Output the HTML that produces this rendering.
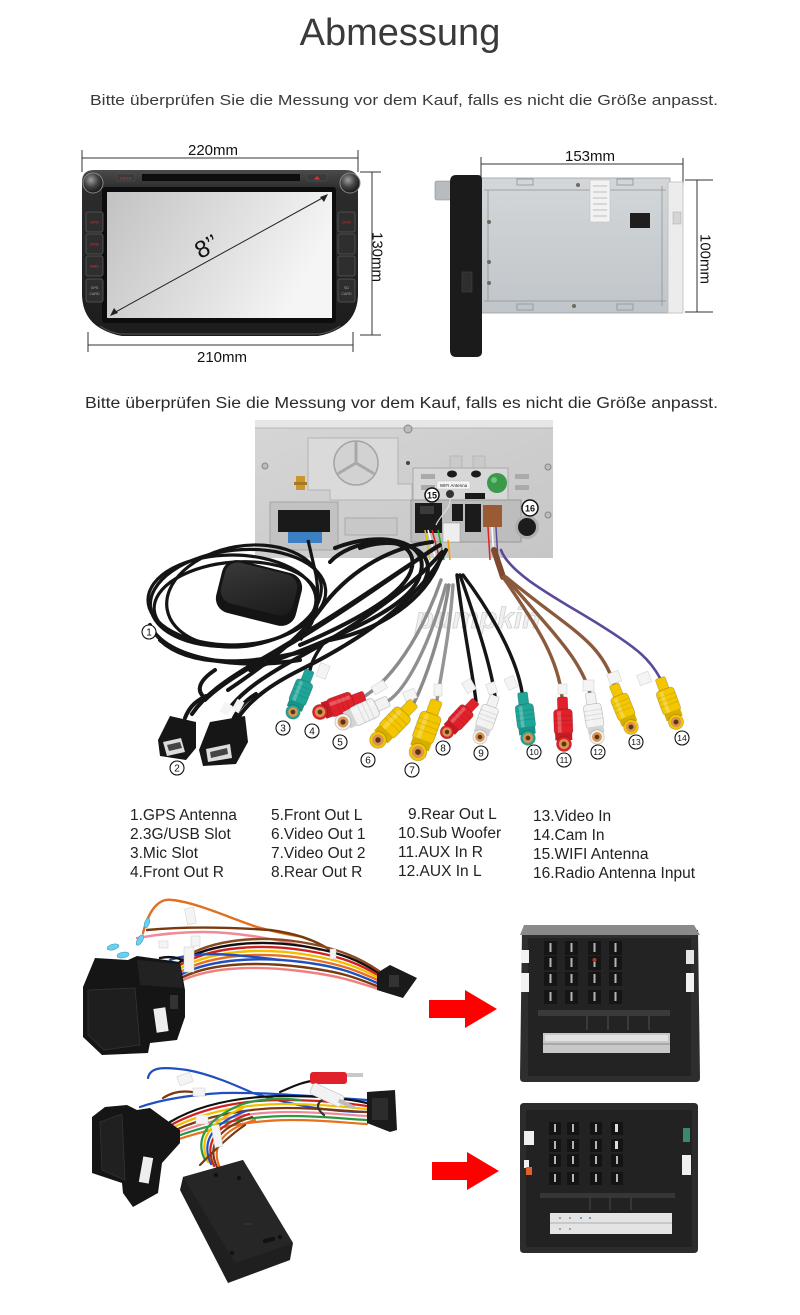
<!DOCTYPE html>
<html><head><meta charset="utf-8">
<style>
html,body{margin:0;padding:0;background:#fff;width:800px;height:1315px;overflow:hidden}
svg{display:block}
</style></head><body>
<svg xmlns="http://www.w3.org/2000/svg" xmlns:xlink="http://www.w3.org/1999/xlink" width="800" height="1315" viewBox="0 0 800 1315" font-family="'Liberation Sans', Arial, sans-serif">
<defs>
<linearGradient id="scr" x1="0" y1="0" x2="1" y2="0.3">
<stop offset="0" stop-color="#c2c2c2"/><stop offset="0.6" stop-color="#e0e0e0"/><stop offset="1" stop-color="#f5f5f5"/>
</linearGradient>
<linearGradient id="bez" x1="0" y1="0" x2="0" y2="1">
<stop offset="0" stop-color="#4a4a4a"/><stop offset="0.12" stop-color="#2c2c2c"/><stop offset="1" stop-color="#1c1c1c"/>
</linearGradient>
<linearGradient id="metal" x1="0" y1="0" x2="0" y2="1">
<stop offset="0" stop-color="#d3d7da"/><stop offset="1" stop-color="#c0c5c9"/>
</linearGradient>
<linearGradient id="panel" x1="0" y1="0" x2="1" y2="1">
<stop offset="0" stop-color="#d6d6d6"/><stop offset="1" stop-color="#c6c6c6"/>
</linearGradient>
<linearGradient id="puck" x1="0" y1="0" x2="1" y2="1">
<stop offset="0" stop-color="#3a3a3a"/><stop offset="1" stop-color="#1a1a1a"/>
</linearGradient>
<radialGradient id="knob" cx="0.4" cy="0.35" r="0.7">
<stop offset="0" stop-color="#a0a0a0"/><stop offset="0.5" stop-color="#444"/><stop offset="1" stop-color="#111"/>
</radialGradient>
<g id="rca">
 <rect x="-5.5" y="-50" width="11" height="15" rx="2" fill="currentColor" stroke="rgba(0,0,0,0.2)" stroke-width="0.8"/>
 <rect x="-10" y="-37" width="20" height="27" rx="4" fill="currentColor" stroke="rgba(0,0,0,0.22)" stroke-width="0.8"/>
 <rect x="-6" y="-35" width="4" height="23" fill="#fff" opacity="0.25"/>
 <path d="M-10 -30 H10 M-10 -25 H10 M-10 -20 H10" stroke="rgba(0,0,0,0.1)" stroke-width="1"/>
 <rect x="-9" y="-12" width="18" height="8" fill="currentColor"/>
 <rect x="-9" y="-12" width="18" height="8" fill="#000" opacity="0.12"/>
 <circle r="8" fill="currentColor" stroke="rgba(0,0,0,0.22)" stroke-width="0.8"/>
 <circle r="5.5" fill="#d89450"/>
 <circle r="2.6" fill="#5a3414"/>
</g>
</defs>

<!-- Titles -->
<text x="400" y="45" font-size="38" text-anchor="middle" fill="#3a3a3a">Abmessung</text>
<text x="90" y="105" font-size="14.5" fill="#3a3a3a" textLength="628" lengthAdjust="spacingAndGlyphs">Bitte überprüfen Sie die Messung vor dem Kauf, falls es nicht die Größe anpasst.</text>

<!-- ===== Front device ===== -->
<g stroke="#333" stroke-width="1" fill="none">
<line x1="82" y1="158" x2="358" y2="158"/>
<line x1="82" y1="150" x2="82" y2="172"/>
<line x1="358" y1="150" x2="358" y2="172"/>
<line x1="372" y1="172" x2="372" y2="335"/>
<line x1="360" y1="172" x2="381" y2="172"/>
<line x1="360" y1="335" x2="381" y2="335"/>
<line x1="88" y1="345" x2="353" y2="345"/>
<line x1="88" y1="332" x2="88" y2="352"/>
<line x1="353" y1="332" x2="353" y2="352"/>
</g>
<text x="213" y="155" font-size="15" text-anchor="middle" fill="#111">220mm</text>
<text x="222" y="362" font-size="15" text-anchor="middle" fill="#111">210mm</text>
<text x="377" y="257" font-size="15" text-anchor="middle" dominant-baseline="central" transform="rotate(90 377 257)" fill="#111">130mm</text>

<path d="M 94 170 L 346 170 Q 358 170 358 182 L 358 296 Q 357 318 340 328 Q 330 334 318 336 L 122 336 Q 110 334 100 328 Q 83 318 82 296 L 82 182 Q 82 170 94 170 Z" fill="url(#bez)"/>
<path d="M 100 326 Q 110 333 122 334 L 318 334 Q 330 333 340 326" fill="none" stroke="#555" stroke-width="1"/>
<rect x="102" y="187" width="234" height="136" rx="3" fill="#0d0d0d"/>
<rect x="107" y="192" width="225" height="126" fill="url(#scr)"/>
<rect x="142" y="174" width="158" height="7" fill="#0d0d0d"/>
<rect x="117" y="174" width="18" height="7" rx="1" fill="#3a3a3a" stroke="#555" stroke-width="0.5"/>
<text x="126" y="179.5" font-size="4" text-anchor="middle" fill="#d33">MUTE</text>
<rect x="307" y="174" width="20" height="7" rx="1" fill="#3a3a3a" stroke="#555" stroke-width="0.5"/>
<path d="M314 179.5 L317 176 L320 179.5 Z" fill="#d33"/>
<circle cx="93" cy="183" r="10" fill="url(#knob)" stroke="#888" stroke-width="1"/>
<circle cx="350" cy="183" r="10" fill="url(#knob)" stroke="#888" stroke-width="1"/>
<g fill="#2e2e2e" stroke="#5a5a5a" stroke-width="0.8">
<rect x="86" y="212" width="17" height="20" rx="2"/>
<rect x="86" y="234" width="17" height="20" rx="2"/>
<rect x="86" y="256" width="17" height="20" rx="2"/>
<rect x="86" y="279" width="17" height="23" rx="2"/>
<rect x="338" y="212" width="17" height="20" rx="2"/>
<rect x="338" y="234" width="17" height="20" rx="2"/>
<rect x="338" y="256" width="17" height="20" rx="2"/>
<rect x="338" y="279" width="17" height="23" rx="2"/>
</g>
<g font-size="4" text-anchor="middle" fill="#d33">
<text x="94.5" y="223.5">GPS</text><text x="94.5" y="245.5">DVD</text><text x="94.5" y="267.5">AMS</text>
<text x="346.5" y="223.5">DVD</text>
</g>
<g font-size="3.6" text-anchor="middle" fill="#aaa">
<text x="94.5" y="289">GPS</text><text x="94.5" y="295">CARD</text>
<text x="346.5" y="289">SD</text><text x="346.5" y="295">CARD</text>
</g>
<g stroke="#222" stroke-width="1" fill="none">
<line x1="112" y1="314" x2="326" y2="196"/>
</g>
<path d="M110 316 L114 308 L118 313 Z" fill="#222"/>
<path d="M328 194 L320 197 L324 202 Z" fill="#222"/>
<text x="207" y="247" font-size="24" text-anchor="middle" dominant-baseline="central" transform="rotate(-29 207 247)" fill="#111">8’’</text>

<!-- ===== Side device ===== -->
<g stroke="#333" stroke-width="1" fill="none">
<line x1="481" y1="164" x2="683" y2="164"/>
<line x1="481" y1="157" x2="481" y2="180"/>
<line x1="683" y1="158" x2="683" y2="185"/>
<line x1="697" y1="180" x2="697" y2="312"/>
<line x1="685" y1="180" x2="713" y2="180"/>
<line x1="685" y1="312" x2="713" y2="312"/>
</g>
<text x="590" y="161" font-size="15" text-anchor="middle" fill="#111">153mm</text>
<text x="705" y="259" font-size="15" text-anchor="middle" dominant-baseline="central" transform="rotate(90 705 259)" fill="#111">100mm</text>

<rect x="480" y="178" width="190" height="135" fill="url(#metal)" stroke="#9aa0a4" stroke-width="0.8"/>
<g stroke="#8e9397" stroke-width="0.8" fill="none">
<line x1="484" y1="190" x2="666" y2="190"/>
<line x1="484" y1="301" x2="666" y2="301"/>
<line x1="488" y1="190" x2="488" y2="301"/>
<line x1="662" y1="186" x2="662" y2="306"/>
<rect x="517" y="179" width="16" height="6"/>
<rect x="617" y="179" width="16" height="6"/>
<rect x="517" y="304" width="16" height="6"/>
<rect x="617" y="304" width="16" height="6"/>
</g>
<g fill="#6f6a60">
<circle cx="578" cy="185" r="2"/><circle cx="489" cy="222" r="2"/><circle cx="489" cy="262" r="2"/><circle cx="489" cy="283" r="2"/><circle cx="574" cy="306" r="2"/>
</g>
<rect x="590" y="180" width="20" height="42" fill="#f2f2f2" stroke="#bbb" stroke-width="0.5"/>
<g stroke="#999" stroke-width="0.6"><line x1="593" y1="186" x2="607" y2="186"/><line x1="593" y1="192" x2="607" y2="192"/><line x1="593" y1="198" x2="607" y2="198"/><line x1="593" y1="204" x2="607" y2="204"/><line x1="593" y1="210" x2="607" y2="210"/><line x1="593" y1="216" x2="607" y2="216"/></g>
<rect x="630" y="213" width="20" height="15" fill="#1e1e1e"/>
<rect x="668" y="182" width="15" height="131" fill="#ececec" stroke="#bdbdbd" stroke-width="0.8"/>
<rect x="673" y="212" width="8" height="12" fill="#d5d5d5" stroke="#aaa" stroke-width="0.5"/>
<rect x="435" y="181" width="17" height="19" rx="2" fill="#b8bcbf" stroke="#888" stroke-width="0.6"/>
<path d="M 456 175 L 478 175 Q 482 175 482 180 L 482 352 Q 482 357 476 357 L 456 357 Q 450 357 450 350 L 450 182 Q 450 175 456 175 Z" fill="#1b1b1b"/>
<rect x="462" y="272" width="10" height="20" fill="#2e2e2e" stroke="#444" stroke-width="0.6"/>

<!-- Subtitle 2 -->
<text x="85" y="408" font-size="15.5" fill="#2a2a2a" textLength="633" lengthAdjust="spacingAndGlyphs">Bitte überprüfen Sie die Messung vor dem Kauf, falls es nicht die Größe anpasst.</text>

<!-- ===== Back panel ===== -->
<rect x="255" y="420" width="298" height="138" fill="url(#panel)"/>
<rect x="255" y="420" width="298" height="8" fill="#e6e6e6"/>
<line x1="255" y1="428" x2="553" y2="428" stroke="#aaa" stroke-width="0.8"/>
<path d="M 308 438 L 398 438 L 398 484 L 412 484 L 412 500 L 330 500 L 330 490 L 308 490 Z" fill="#dadada" stroke="#b4b4b4" stroke-width="1"/>
<circle cx="356" cy="463" r="22" fill="#d2d2d2" stroke="#a4a4a4" stroke-width="1.5"/>
<g stroke="#a8a8a8" stroke-width="3" stroke-linecap="round">
<line x1="356" y1="463" x2="356" y2="443"/>
<line x1="356" y1="463" x2="339" y2="473"/>
<line x1="356" y1="463" x2="373" y2="473"/>
</g>
<circle cx="408" cy="429" r="4" fill="#bbb" stroke="#888"/>
<circle cx="408" cy="463" r="2" fill="#444"/>
<circle cx="265" cy="466" r="3" fill="#bbb" stroke="#888"/>
<circle cx="548" cy="467" r="3" fill="#bbb" stroke="#888"/>
<circle cx="548" cy="515" r="3" fill="#bbb" stroke="#888"/>
<rect x="270" y="502" width="68" height="48" fill="#c2c2c2" stroke="#a6a6a6"/>
<rect x="278" y="510" width="52" height="22" fill="#1a1a1a"/>
<rect x="288" y="532" width="34" height="11" fill="#3c7fc2"/>
<rect x="296" y="476" width="9" height="14" fill="#c8952e"/>
<rect x="294" y="482" width="13" height="3" fill="#a67820"/>
<rect x="345" y="518" width="52" height="17" fill="#c8c8c8" stroke="#aaa"/>
<rect x="450" y="456" width="12" height="12" fill="#c9c9c9" stroke="#aaa" stroke-width="0.6"/>
<rect x="473" y="456" width="12" height="12" fill="#c9c9c9" stroke="#aaa" stroke-width="0.6"/>
<rect x="413" y="468" width="95" height="34" fill="#d7d7d7" stroke="#aaa"/>
<rect x="421" y="474" width="14" height="5" fill="#aaa"/>
<rect x="421" y="485" width="14" height="5" fill="#aaa"/>
<rect x="515" y="474" width="14" height="5" fill="#aaa"/>
<rect x="515" y="485" width="14" height="5" fill="#aaa"/>
<ellipse cx="452" cy="474" rx="5" ry="3.5" fill="#1a1a1a"/>
<ellipse cx="476" cy="474" rx="5" ry="3.5" fill="#1a1a1a"/>
<rect x="437" y="481" width="33" height="8" fill="#f4f4f4" stroke="#bbb" stroke-width="0.4"/>
<text x="453.5" y="487" font-size="4.5" text-anchor="middle" fill="#222">WIFI Antenna</text>
<rect x="465" y="493" width="20" height="6" fill="#1a1a1a"/>
<circle cx="497" cy="483" r="10" fill="#3a9a4a"/>
<circle cx="494" cy="480" r="3" fill="#6bc47a"/>
<rect x="411" y="500" width="110" height="42" fill="#bdbdbd" stroke="#999"/>
<rect x="415" y="503" width="27" height="30" fill="#1b1b1b"/>
<rect x="420" y="506" width="14" height="8" fill="#3a3a3a"/>
<rect x="443" y="523" width="17" height="19" fill="#eee" stroke="#999" stroke-width="0.5"/>
<rect x="452" y="504" width="11" height="17" fill="#1b1b1b"/>
<rect x="465" y="504" width="16" height="28" fill="#1b1b1b"/>
<rect x="483" y="505" width="19" height="22" fill="#9a5a33"/>
<circle cx="450" cy="494" r="4" fill="#333"/>
<path d="M 450 498 C 452 508, 440 515, 436 525" stroke="#ddd" stroke-width="1.2" fill="none"/>
<circle cx="527" cy="527" r="12" fill="#b0b0b0"/>
<circle cx="527" cy="527" r="9" fill="#1c1c1c"/>
<circle cx="432" cy="495" r="7" fill="#fff" stroke="#111" stroke-width="1.5"/>
<text x="432" y="498.5" font-size="9" font-weight="bold" text-anchor="middle" fill="#111">15</text>
<circle cx="530" cy="508" r="8" fill="#fff" stroke="#111" stroke-width="1.5"/>
<text x="530" y="511.5" font-size="9" font-weight="bold" text-anchor="middle" fill="#111">16</text>
<g fill="none" stroke-width="1.5">
<path d="M 425 530 L 430 560" stroke="#e8c000"/>
<path d="M 428 530 L 436 560" stroke="#fff"/>
<path d="M 432 530 L 440 560" stroke="#d22"/>
<path d="M 438 530 L 444 560" stroke="#2a2"/>
<path d="M 448 540 L 450 560" stroke="#f0a000"/>
<path d="M 488 527 L 490 560" stroke="#d22"/>
<path d="M 492 527 L 494 560" stroke="#fff"/>
<path d="M 496 527 L 498 560" stroke="#5b4a9a"/>
</g>

<!-- ===== Cables ===== -->
<text x="478" y="628" font-size="30" font-style="italic" font-weight="bold" text-anchor="middle" fill="#f0f0f0" stroke="#d0d0d0" stroke-width="0.8">pumpkin</text>

<!-- GPS coil -->
<g fill="none" stroke="#141414" stroke-width="3.2">
<ellipse cx="238" cy="598" rx="88" ry="48" transform="rotate(-6 238 598)"/>
<ellipse cx="236" cy="604" rx="82" ry="42" transform="rotate(-4 236 604)"/>
<ellipse cx="244" cy="596" rx="78" ry="50" transform="rotate(-10 244 596)"/>
<ellipse cx="232" cy="600" rx="84" ry="45"/>
<path d="M 308 540 L 316 575 C 320 600, 318 620, 300 640"/>
</g>
<rect x="218" y="566" width="82" height="54" rx="15" fill="#141414" transform="rotate(14 259 593)"/>
<rect x="222" y="568" width="74" height="42" rx="13" fill="url(#puck)" transform="rotate(14 259 589)"/>

<!-- Black band of cables -->
<g fill="none" stroke="#151515" stroke-width="4" stroke-linecap="round">
<path d="M 440 545 C 400 570, 330 620, 260 660 C 225 680, 205 695, 192 714"/>
<path d="M 432 542 C 385 548, 345 575, 320 610 C 298 640, 265 665, 228 690"/>
<path d="M 446 550 C 420 600, 360 640, 300 670 C 270 685, 250 700, 238 718"/>
<path d="M 436 547 C 395 575, 340 615, 280 650 C 245 670, 220 685, 205 700"/>
<path d="M 442 552 C 410 590, 350 630, 290 662 C 262 678, 245 690, 232 705"/>
<path d="M 335 548 C 380 530, 432 540, 420 575 C 410 610, 330 640, 250 670"/>
<path d="M 330 562 C 350 540, 405 532, 412 558 C 418 585, 370 615, 300 645"/>
<path d="M 360 548 C 395 535, 440 548, 425 580"/>
<path d="M 160 640 C 190 668, 250 665, 310 650"/>
<path d="M 150 625 C 165 660, 240 670, 300 660"/>
<path d="M 215 670 C 200 680, 195 690, 205 698"/>
<path d="M 440 560 C 425 600, 380 630, 330 640"/>
</g>

<!-- Colored cables to plugs -->
<g fill="none" stroke-linecap="round" stroke-width="3.4">
<path d="M 310 670 C 312 660, 318 650, 326 640" stroke="#151515"/>
<path d="M 365 696 C 390 680, 420 640, 441 580" stroke="#8c8c8c"/>
<path d="M 388 701 C 405 690, 428 650, 446 585" stroke="#909090"/>
<path d="M 414 703 C 425 680, 440 640, 449 585" stroke="#8a8a8a"/>
<path d="M 437 700 C 442 670, 450 630, 453 585" stroke="#959595"/>
<path d="M 476 701 C 472 670, 462 620, 457 575" stroke="#151515"/>
<path d="M 495 696 C 490 660, 472 610, 460 575" stroke="#151515"/>
<path d="M 522 692 C 515 650, 482 600, 463 575" stroke="#151515"/>
<path d="M 494 550 L 503 577" stroke="#7d4a2e" stroke-width="6"/>
<path d="M 562 697 C 558 660, 540 630, 503 577" stroke="#8b5a3c"/>
<path d="M 590 693 C 580 660, 560 640, 505 577" stroke="#8b5a3c"/>
<path d="M 614 684 C 600 640, 570 630, 506 577" stroke="#8b5a3c"/>
<path d="M 501 550 C 510 575, 560 600, 600 625 S 650 660, 660 678" stroke="#5b4a9a" stroke-width="2.6"/>
</g>
<g fill="#f4f4f4" stroke="#ccc" stroke-width="0.5">
<rect x="318" y="664" width="10" height="14" transform="rotate(20 323 671)"/>
<rect x="372" y="683" width="14" height="9" transform="rotate(-30 379 687)"/>
<rect x="404" y="690" width="12" height="10" transform="rotate(-20 410 695)"/>
<rect x="434" y="684" width="8" height="12"/>
<rect x="464" y="680" width="10" height="12" transform="rotate(-30 469 686)"/>
<rect x="487" y="683" width="9" height="11" transform="rotate(-20 491 688)"/>
<rect x="506" y="677" width="10" height="12" transform="rotate(-25 511 683)"/>
<rect x="558" y="684" width="9" height="10"/>
<rect x="583" y="680" width="11" height="11"/>
<rect x="608" y="672" width="12" height="11" transform="rotate(-20 614 677)"/>
<rect x="638" y="673" width="12" height="11" transform="rotate(-20 644 678)"/>
</g>

<!-- RCA plugs -->
<use xlink:href="#rca" href="#rca" color="#1ea597" transform="translate(293,712) rotate(22) scale(0.9)"/>
<use xlink:href="#rca" href="#rca" color="#e0202a" transform="translate(320,712) rotate(70) scale(0.95)"/>
<use xlink:href="#rca" href="#rca" color="#f2f2f2" transform="translate(343,722) rotate(65) scale(1.0)"/>
<use xlink:href="#rca" href="#rca" color="#f3c600" transform="translate(378,740) rotate(44) scale(1.04)"/>
<use xlink:href="#rca" href="#rca" color="#f3c600" transform="translate(418,752) rotate(20) scale(1.1)"/>
<use xlink:href="#rca" href="#rca" color="#e0202a" transform="translate(447,732) rotate(43) scale(0.85)"/>
<use xlink:href="#rca" href="#rca" color="#f2f2f2" transform="translate(480,737) rotate(20) scale(0.88)"/>
<use xlink:href="#rca" href="#rca" color="#1ea597" transform="translate(528,738) rotate(-7) scale(0.92)"/>
<use xlink:href="#rca" href="#rca" color="#e0202a" transform="translate(564,744) rotate(-2) scale(0.94)"/>
<use xlink:href="#rca" href="#rca" color="#f2f2f2" transform="translate(597,737) rotate(-9) scale(0.9)"/>
<use xlink:href="#rca" href="#rca" color="#f3c600" transform="translate(631,727) rotate(-22) scale(0.92)"/>
<use xlink:href="#rca" href="#rca" color="#f3c600" transform="translate(676,722) rotate(-20) scale(0.94)"/>

<!-- USB connectors -->
<g fill="none" stroke="#151515" stroke-width="4" stroke-linecap="round">
<path d="M 185 718 C 190 705, 198 700, 206 696"/>
<path d="M 232 722 C 238 708, 246 700, 256 694"/>
</g>
<polygon points="158,740 170,716 196,722 196,748 186,760 160,756" fill="#161616"/>
<polygon points="163,742 181,738 185,752 167,756" fill="#dcdcdc"/>
<polygon points="167,745 180,742 182,748 169,751" fill="#444"/>
<polygon points="199,750 210,722 245,716 248,742 236,764 203,766" fill="#161616"/>
<polygon points="206,749 230,744 232,758 208,762" fill="#dcdcdc"/>
<polygon points="210,752 227,748 228,754 211,758" fill="#444"/>
<rect x="222" y="703" width="9" height="11" fill="#f4f4f4" transform="rotate(30 226 708)"/>
<rect x="234" y="700" width="8" height="12" fill="#f4f4f4" transform="rotate(30 238 706)"/>

<!-- Circled numbers -->
<g fill="#fff" stroke="#111" stroke-width="1.1">
<circle cx="149" cy="632" r="7"/><circle cx="177" cy="768" r="7"/><circle cx="283" cy="728" r="7"/><circle cx="312" cy="731" r="7"/>
<circle cx="340" cy="742" r="7"/><circle cx="368" cy="760" r="7"/><circle cx="412" cy="770" r="7"/><circle cx="443" cy="748" r="7"/>
<circle cx="481" cy="753" r="7"/><circle cx="534" cy="752" r="7"/><circle cx="564" cy="760" r="7"/><circle cx="598" cy="752" r="7"/>
<circle cx="636" cy="742" r="7"/><circle cx="682" cy="738" r="7"/>
</g>
<g font-size="10" text-anchor="middle" fill="#111">
<text x="149" y="635.5">1</text><text x="177" y="771.5">2</text><text x="283" y="731.5">3</text><text x="312" y="734.5">4</text>
<text x="340" y="745.5">5</text><text x="368" y="763.5">6</text><text x="412" y="773.5">7</text><text x="443" y="751.5">8</text>
<text x="481" y="756.5">9</text>
</g>
<g font-size="8.5" text-anchor="middle" fill="#111">
<text x="534" y="755">10</text><text x="564" y="763">11</text><text x="598" y="755">12</text><text x="636" y="745">13</text><text x="682" y="741">14</text>
</g>

<!-- ===== Legend ===== -->
<g font-size="15.5" fill="#222">
<text x="130" y="820">1.GPS Antenna</text>
<text x="130" y="839">2.3G/USB Slot</text>
<text x="130" y="858">3.Mic Slot</text>
<text x="130" y="877">4.Front Out R</text>
<text x="271" y="820">5.Front Out L</text>
<text x="271" y="839">6.Video Out 1</text>
<text x="271" y="858">7.Video Out 2</text>
<text x="271" y="877">8.Rear Out R</text>
<text x="408" y="819">9.Rear Out L</text>
<text x="398" y="838">10.Sub Woofer</text>
<text x="398" y="857">11.AUX In R</text>
<text x="398" y="876">12.AUX In L</text>
<text x="533" y="821">13.Video In</text>
<text x="533" y="840">14.Cam In</text>
<text x="533" y="859">15.WIFI Antenna</text>
<text x="533" y="878">16.Radio Antenna Input</text>
</g>

<!-- ===== Harness 1 ===== -->
<g fill="none" stroke-width="2.4" stroke-linecap="round">
<path d="M 143 933 C 150 905, 162 898, 172 900 C 195 902, 230 918, 257 927 C 275 932, 290 935, 303 937" stroke="#e07020"/>
<path d="M 147 930 C 190 926, 240 928, 270 930 C 300 934, 318 942, 330 950" stroke="#7a3a10"/>
<path d="M 137 938 C 160 934, 185 932, 203 932 C 240 932, 280 940, 320 950" stroke="#f08a9a"/>
<path d="M 180 962 C 212 942, 262 940, 302 946 S 362 962, 380 974" stroke="#111"/>
<path d="M 180 965 C 212 946, 262 944, 302 950 S 362 965, 381 977" stroke="#d02020"/>
<path d="M 181 968 C 213 950, 262 948, 302 954 S 360 968, 381 979" stroke="#f0c000"/>
<path d="M 182 971 C 214 954, 262 952, 302 958 S 358 971, 382 982" stroke="#e87020"/>
<path d="M 182 974 C 214 958, 262 957, 302 962 S 356 974, 382 985" stroke="#2050c0"/>
<path d="M 183 977 C 214 962, 262 962, 302 967 S 354 977, 382 988" stroke="#7a3a10"/>
<path d="M 183 980 C 214 966, 260 966, 300 971 S 350 980, 382 990" stroke="#f08080"/>
<path d="M 183 958 C 215 938, 262 936, 300 942 S 360 958, 379 971" stroke="#8a4a20"/>
<path d="M 170 960 C 200 950, 240 955, 280 960" stroke="#2050c0"/>
<path d="M 160 958 C 175 955, 185 960, 190 966" stroke="#111"/>
</g>
<g fill="#6cd0ee" stroke="#3aa0c0" stroke-width="0.6">
<ellipse cx="113" cy="947" rx="6" ry="2.8" transform="rotate(-15 113 947)"/>
<ellipse cx="140" cy="940" rx="6" ry="2.6" transform="rotate(-60 140 940)"/>
<ellipse cx="123" cy="955" rx="6" ry="2.8" transform="rotate(-10 123 955)"/>
<ellipse cx="147" cy="923" rx="5" ry="2.4" transform="rotate(-70 147 923)"/>
</g>
<g fill="#f4f4f4" stroke="#ccc" stroke-width="0.5">
<rect x="186" y="908" width="9" height="16" transform="rotate(-10 190 916)"/>
<rect x="191" y="936" width="9" height="10"/>
<rect x="159" y="941" width="9" height="7"/>
<rect x="184" y="947" width="10" height="25"/>
<rect x="330" y="949" width="6" height="10"/>
</g>
<polygon points="83,987 95,958 128,960 137,956 180,962 185,990 185,1017 177,1040 150,1043 148,1053 102,1055 83,1037" fill="#151515"/>
<polygon points="137,960 180,964 183,988 140,985" fill="#222"/>
<polygon points="88,990 135,988 140,1045 104,1050 88,1035" fill="#1e1e1e" stroke="#333" stroke-width="0.8"/>
<rect x="155" y="1008" width="12" height="24" fill="#eee" transform="rotate(-8 161 1020)"/>
<rect x="170" y="995" width="8" height="14" fill="#333"/>
<polygon points="377,973 390,965 417,978 403,998 377,990" fill="#1a1a1a"/>
<rect x="389" y="975" width="10" height="12" fill="#333"/>

<!-- Arrow 1 -->
<polygon points="429,1000 465,1000 465,990 497,1009 465,1028 465,1018 429,1018" fill="#ff0000"/>

<!-- Connector 1 -->
<path d="M 522 930 L 698 930 L 700 1078 Q 700 1082 696 1082 L 524 1082 Q 520 1082 520 1078 Z" fill="#2e2e2e"/>
<path d="M 524 925 L 694 925 L 700 935 L 520 935 Z" fill="#8a8a8a"/>
<rect x="528" y="938" width="163" height="138" fill="#232323"/>
<rect x="521" y="950" width="8" height="13" fill="#f2f2f2"/>
<rect x="521" y="973" width="8" height="19" fill="#f2f2f2"/>
<rect x="686" y="950" width="8" height="14" fill="#e6e6e6"/>
<rect x="686" y="973" width="8" height="19" fill="#f2f2f2"/>
<g fill="#151515">
<rect x="544" y="941" width="13" height="14"/><rect x="565" y="941" width="13" height="14"/><rect x="588" y="941" width="13" height="14"/><rect x="609" y="941" width="13" height="14"/>
<rect x="544" y="956" width="13" height="14"/><rect x="565" y="956" width="13" height="14"/><rect x="588" y="956" width="13" height="14"/><rect x="609" y="956" width="13" height="14"/>
<rect x="544" y="972" width="13" height="14"/><rect x="565" y="972" width="13" height="14"/><rect x="588" y="972" width="13" height="14"/><rect x="609" y="972" width="13" height="14"/>
<rect x="544" y="990" width="13" height="14"/><rect x="565" y="990" width="13" height="14"/><rect x="588" y="990" width="13" height="14"/><rect x="609" y="990" width="13" height="14"/>
</g>
<g fill="#b5b5b5">
<rect x="549.5" y="943" width="2" height="9"/><rect x="570.5" y="943" width="2" height="9"/><rect x="593.5" y="943" width="2" height="9"/><rect x="614.5" y="943" width="2" height="9"/>
<rect x="549.5" y="958" width="2" height="9"/><rect x="570.5" y="958" width="2" height="9"/><rect x="593.5" y="958" width="2" height="9"/><rect x="614.5" y="958" width="2" height="9"/>
<rect x="549.5" y="974" width="2" height="9"/><rect x="570.5" y="974" width="2" height="9"/><rect x="593.5" y="974" width="2" height="9"/><rect x="614.5" y="974" width="2" height="9"/>
<rect x="549.5" y="992" width="2" height="9"/><rect x="570.5" y="992" width="2" height="9"/><rect x="593.5" y="992" width="2" height="9"/><rect x="614.5" y="992" width="2" height="9"/>
</g>
<circle cx="594.5" cy="960" r="2" fill="#b03a2a"/>
<rect x="538" y="1010" width="132" height="6" fill="#3a3a3a"/>
<g fill="#3a3a3a"><rect x="586" y="1016" width="2" height="14"/><rect x="607" y="1016" width="2" height="14"/><rect x="627" y="1016" width="2" height="14"/><rect x="648" y="1016" width="2" height="14"/></g>
<rect x="543" y="1033" width="127" height="20" fill="#c8c8c8"/>
<rect x="545" y="1035" width="123" height="6" fill="#e2e2e2"/>
<rect x="543" y="1043" width="127" height="2" fill="#a8a8a8"/>

<!-- ===== Harness 2 ===== -->
<g fill="none" stroke-width="2.2" stroke-linecap="round">
<path d="M 148 1078 C 150 1068, 160 1066, 187 1070 C 210 1074, 235 1085, 253 1093 C 290 1105, 330 1112, 367 1112" stroke="#2050c0"/>
<path d="M 140 1107 C 160 1100, 190 1095, 222 1093 C 260 1092, 310 1096, 367 1100" stroke="#2050c0"/>
<path d="M 170 1122 C 200 1104, 240 1097, 280 1096 C 320 1096, 345 1098, 367 1103" stroke="#111"/>
<path d="M 171 1125 C 202 1108, 242 1100, 282 1100 C 320 1100, 345 1103, 367 1106" stroke="#d02020"/>
<path d="M 172 1128 C 204 1112, 244 1104, 284 1104 C 320 1104, 345 1107, 367 1109" stroke="#f0c000"/>
<path d="M 173 1131 C 206 1116, 246 1108, 286 1108 C 320 1108, 345 1111, 367 1112" stroke="#7a3a10"/>
<path d="M 174 1134 C 208 1120, 248 1112, 288 1112 C 322 1112, 345 1115, 367 1116" stroke="#f08a9a"/>
<path d="M 175 1137 C 210 1124, 250 1116, 290 1116 C 324 1116, 345 1119, 367 1120" stroke="#2a9a40"/>
<path d="M 176 1140 C 212 1128, 252 1120, 292 1120 C 326 1120, 345 1123, 367 1124" stroke="#e87020"/>
<path d="M 163 1098 C 175 1090, 190 1090, 205 1095" stroke="#7a3a10"/>
<path d="M 205 1160 C 195 1140, 205 1120, 240 1105 C 260 1098, 280 1098, 300 1100" stroke="#2a9a40"/>
<path d="M 208 1162 C 198 1140, 208 1122, 243 1108" stroke="#f0c000"/>
<path d="M 211 1164 C 201 1142, 211 1124, 246 1111" stroke="#2050c0"/>
<path d="M 214 1166 C 204 1144, 214 1126, 249 1114" stroke="#d02020"/>
<path d="M 217 1167 C 207 1146, 217 1128, 252 1117" stroke="#7a3a10"/>
<path d="M 220 1168 C 211 1148, 220 1130, 255 1120" stroke="#e87020"/>
<path d="M 200 1165 C 215 1150, 230 1135, 245 1125" stroke="#7a3a10"/>
<path d="M 318 1080 C 300 1082, 290 1088, 280 1092" stroke="#111"/>
<path d="M 322 1100 C 315 1105, 318 1110, 324 1115" stroke="#333"/>
</g>
<g fill="#f4f4f4" stroke="#ccc" stroke-width="0.5">
<rect x="178" y="1074" width="14" height="10" transform="rotate(-20 185 1079)"/>
<rect x="193" y="1088" width="12" height="8"/>
<rect x="196" y="1115" width="12" height="9"/>
<rect x="213" y="1125" width="8" height="22" transform="rotate(-10 217 1136)"/>
</g>
<polygon points="92,1117 105,1107 127,1105 137,1110 150,1108 180,1130 180,1143 162,1163 158,1193 133,1207 123,1193 122,1183 92,1173" fill="#151515"/>
<polygon points="100,1122 122,1114 125,1180 102,1170" fill="#202020" stroke="#333" stroke-width="0.8"/>
<rect x="141" y="1157" width="10" height="26" fill="#eee" transform="rotate(10 146 1170)"/>
<polygon points="367,1092 395,1090 397,1130 390,1132 367,1123" fill="#1a1a1a"/>
<rect x="372" y="1098" width="16" height="22" fill="#2c2c2c"/>
<rect x="310" y="1072" width="37" height="12" rx="3" fill="#e0202a"/>
<rect x="347" y="1073" width="16" height="4" fill="#c8c8c8"/>
<rect x="310" y="1089" width="34" height="12" rx="3" fill="#f2f2f2" stroke="#bbb" stroke-width="0.6" transform="rotate(25 327 1095)"/>
<rect x="338" y="1102" width="17" height="4" fill="#bbb" transform="rotate(25 346 1104)"/>
<polygon points="183,1177 243,1160 293,1243 290,1260 228,1283 180,1190" fill="#1f1f1f"/>
<polygon points="183,1177 243,1160 293,1243 235,1263" fill="#262626"/>
<g fill="#111"><circle cx="216" cy="1175" r="2.2"/><circle cx="239" cy="1178" r="2.2"/><circle cx="232" cy="1253" r="2.2"/><circle cx="280" cy="1237" r="2.2"/></g>
<rect x="263" y="1238" width="12" height="4" fill="#111" transform="rotate(-15 269 1240)"/>
<g fill="#444"><circle cx="245" cy="1224" r="0.9"/><circle cx="248" cy="1224" r="0.9"/><circle cx="251" cy="1224" r="0.9"/></g>

<!-- Arrow 2 -->
<polygon points="432,1162 467,1162 467,1152 499,1171 467,1190 467,1180 432,1180" fill="#ff0000"/>

<!-- Connector 2 -->
<path d="M 524 1103 L 694 1103 Q 698 1103 698 1107 L 698 1249 Q 698 1253 694 1253 L 524 1253 Q 520 1253 520 1249 L 520 1107 Q 520 1103 524 1103 Z" fill="#2c2c2c"/>
<rect x="526" y="1110" width="166" height="137" fill="#222"/>
<rect x="524" y="1131" width="10" height="14" fill="#f0f0f0"/>
<rect x="524" y="1160" width="5" height="8" fill="#f0f0f0"/>
<rect x="526" y="1167" width="6" height="8" fill="#e06030"/>
<rect x="683" y="1128" width="7" height="14" fill="#3a8a6a"/>
<rect x="682" y="1155" width="9" height="20" fill="#f0f0f0"/>
<g fill="#141414">
<rect x="549" y="1122" width="12" height="13"/><rect x="567" y="1122" width="12" height="13"/><rect x="590" y="1122" width="12" height="13"/><rect x="611" y="1122" width="12" height="13"/>
<rect x="549" y="1139" width="12" height="13"/><rect x="567" y="1139" width="12" height="13"/><rect x="590" y="1139" width="12" height="13"/><rect x="611" y="1139" width="12" height="13"/>
<rect x="549" y="1154" width="12" height="13"/><rect x="567" y="1154" width="12" height="13"/><rect x="590" y="1154" width="12" height="13"/><rect x="611" y="1154" width="12" height="13"/>
<rect x="549" y="1172" width="12" height="13"/><rect x="567" y="1172" width="12" height="13"/><rect x="590" y="1172" width="12" height="13"/><rect x="611" y="1172" width="12" height="13"/>
</g>
<g fill="#b5b5b5">
<rect x="554" y="1124" width="2" height="8"/><rect x="572" y="1124" width="2" height="8"/><rect x="595" y="1124" width="2" height="8"/><rect x="615" y="1124" width="3" height="8" fill="#ddd"/>
<rect x="554" y="1141" width="2" height="8"/><rect x="572" y="1141" width="2" height="8"/><rect x="595" y="1141" width="2" height="8"/><rect x="615" y="1141" width="3" height="8" fill="#ddd"/>
<rect x="554" y="1156" width="2" height="8"/><rect x="572" y="1156" width="2" height="8"/><rect x="595" y="1156" width="2" height="8"/><rect x="616" y="1156" width="2" height="8"/>
<rect x="554" y="1174" width="2" height="8"/><rect x="572" y="1174" width="2" height="8"/><rect x="595" y="1174" width="2" height="8"/><rect x="616" y="1174" width="2" height="8"/>
</g>
<rect x="540" y="1193" width="135" height="5" fill="#363636"/>
<g fill="#363636"><rect x="589" y="1198" width="2" height="12"/><rect x="609" y="1198" width="2" height="12"/><rect x="630" y="1198" width="2" height="12"/></g>
<rect x="550" y="1213" width="122" height="21" fill="#e4e4e4"/>
<rect x="550" y="1222" width="122" height="2" fill="#c8c8c8"/>
<g fill="#777"><circle cx="560" cy="1218" r="0.9"/><circle cx="570" cy="1218" r="0.9"/><circle cx="581" cy="1218" r="0.9" fill="#2a6a9a"/><circle cx="590" cy="1218" r="0.9" fill="#2a6a9a"/><circle cx="560" cy="1229" r="0.9"/><circle cx="570" cy="1229" r="0.9"/></g>
</svg>
</body></html>
